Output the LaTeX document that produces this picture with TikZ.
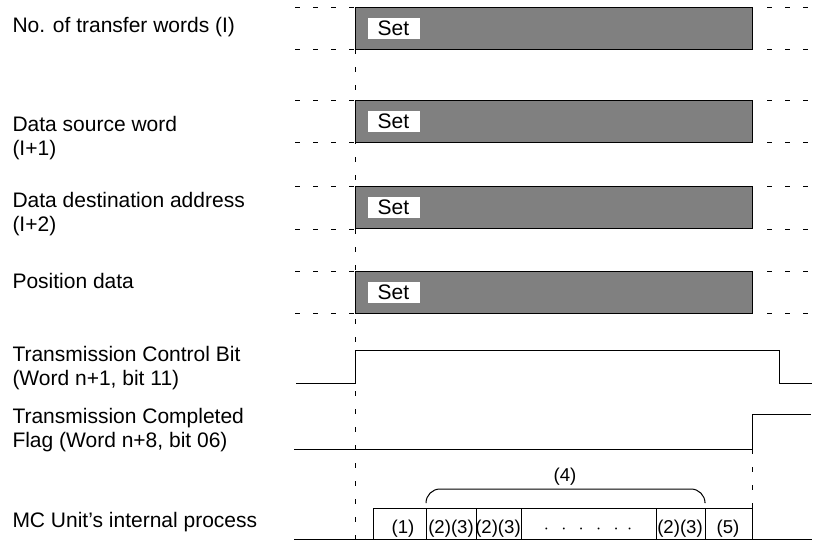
\documentclass[tikz,border=0pt]{standalone}
\usepackage{fontspec}
\setmainfont{Liberation Sans}
\usetikzlibrary{positioning,calc}

\begin{document}
\begin{tikzpicture}[x=0.5pt, y=-0.5pt, line width=0.5pt,
        lbl/.style={anchor=west, align=left, inner sep=0pt, font=\fontsize{10.5}{12}\selectfont},
        bar/.style={draw, fill=black!50, anchor=north west, inner sep=0pt, minimum width=198.5pt, minimum height=21pt},
        setbox/.style={fill=white, inner sep=0pt, minimum width=26pt, minimum height=10.5pt, font=\fontsize{10.5}{12}\selectfont},
        guide/.style={dash pattern=on 2.5pt off 6.5pt},
        proc/.style={inner sep=0pt, font=\fontsize{9.3}{10}\selectfont}]
        \useasboundingbox (0,0) rectangle (815,541);

        % Labels
        \node[lbl] (lwords) at (12,27) {No. of transfer words (I)};
        \node[lbl] (lsource) at (12,138) {Data source word\\(I+1)};
        \node[lbl] (ldest) at (12,214) {Data destination address\\(I+2)};
        \node[lbl] (lpos) at (12,281) {Position data};
        \node[lbl] (lctrl) at (12,368) {Transmission Control Bit\\(Word n+1, bit 11)};
        \node[lbl] (lflag) at (12,430) {Transmission Completed\\Flag (Word n+8, bit 06)};
        \node[lbl] (lproc) at (12,522) {MC Unit's internal process};

        % Dashed guides
        \foreach \y in {7,49,100,142,186,229,271,313} {
            \draw[guide] (295,\y) -- (355,\y);
            \draw[guide] (767,\y) -- (815,\y);
        }
        \draw[guide] (355,49) -- (355,539);
        \draw[guide] (752,449) -- (752,508);

        % Data bars
        \node[bar] (bar1) at (355,7) {};
        \node[setbox, right=6pt of bar1.west, anchor=west] (set1) {Set};
        \node[bar] (bar2) at (355,100) {};
        \node[setbox, right=6pt of bar2.west, anchor=west] (set2) {Set};
        \node[bar] (bar3) at (355,186) {};
        \node[setbox, right=6pt of bar3.west, anchor=west] (set3) {Set};
        \node[bar] (bar4) at (355,271) {};
        \node[setbox, right=6pt of bar4.west, anchor=west] (set4) {Set};

        % Transmission Control Bit
        \draw (296,383) -- (355,383) -- (355,350) -- (779,350) -- (779,383) -- (812,383);

        % Transmission Completed Flag
        \draw (294,449) -- (752,449) -- (752,414) -- (811,414);

        % Internal process
        \draw (294,539) -- (812,539);
        \draw (373,539) -- (373,508) -- (752,508) -- (752,539);
        \foreach \x in {426,476,521,656,705}
            \draw (\x,508) -- (\x,539);
        \node[proc] (p1) at (403,529) {(1)};
        \node[proc] (p2) at (451,529) {(2)(3)};
        \node[proc] (p3) at (498,529) {(2)(3)};
        \node[proc] (pdots) at (588,529) {$\cdot\;\,\cdot\;\,\cdot\;\,\cdot\;\,\cdot\;\,\cdot$};
        \node[proc] (p4) at (680,529) {(2)(3)};
        \node[proc] (p5) at (728,529) {(5)};

        % Brace
        \draw[rounded corners=7pt] (426,502) |- (565,489) -| (705,502);
        \node[proc] (repeat) at (565,477) {(4)};
    \end{tikzpicture}
\end{document}
